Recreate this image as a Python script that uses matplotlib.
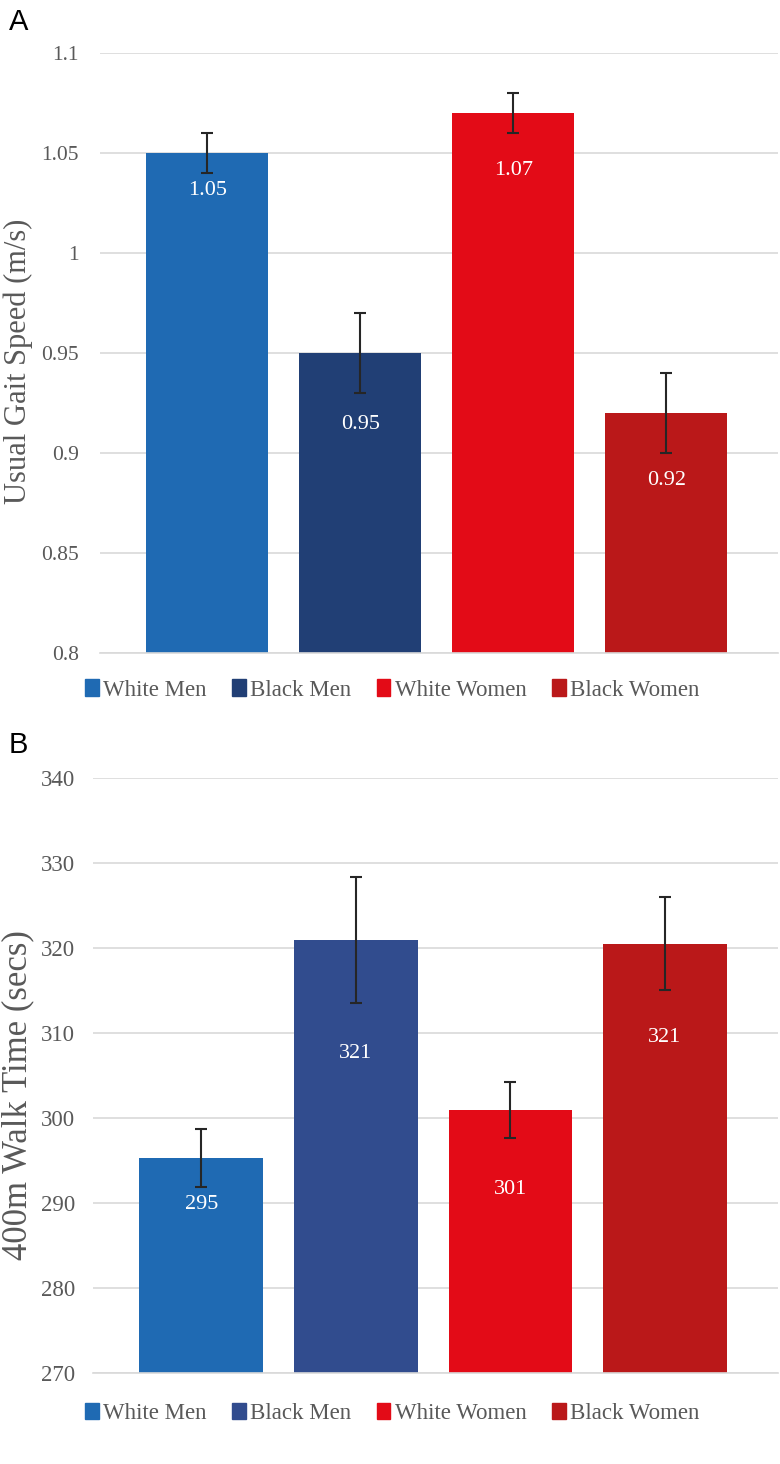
import matplotlib.pyplot as plt
from matplotlib.patches import Patch

# data
groups = ['White Men', 'Black Men', 'White Women', 'Black Women']
gait_speed = [1.05, 0.95, 1.07, 0.92]
gait_err = [0.01, 0.02, 0.01, 0.02]
gait_labels = ['1.05', '0.95', '1.07', '0.92']
walk_time = [295.3, 320.9, 300.9, 320.5]
walk_err = [3.4, 7.4, 3.3, 5.5]
walk_labels = ['295', '321', '301', '321']

colors_a = ['#1f6ab3', '#213f75', '#e30b17', '#ba1819']
colors_b = ['#1f6ab3', '#314c8e', '#e30b17', '#ba1819']

# label drop below error bar bottom (px)
drop_a = [17, 31, 37, 27]
drop_b = [18, 50, 51, 47]

SERIF = ['Liberation Serif', 'DejaVu Serif']
GREY = '#595959'

fig = plt.figure(figsize=(7.8, 14.64), dpi=100)


def panel(rect, vals, errs, labels, cols, drops, ylim, yticks, ylabel, tick_fs, lab_fs, pad):
    ax = fig.add_axes(rect)
    x = range(len(vals))
    ax.bar(x, vals, width=0.8, color=cols, zorder=2)
    ax.errorbar(x, vals, yerr=errs, fmt='none', ecolor='#262626',
                elinewidth=1.5, capsize=4, capthick=1.5, zorder=3)
    for i, (v, e, t) in enumerate(zip(vals, errs, labels)):
        ax.annotate(t, (i, v - e), xytext=(0, -drops[i] * 0.72), textcoords='offset points',
                    ha='center', va='center', color='white', fontsize=16, family=SERIF, zorder=4)
    ax.set_xlim(-0.7, 3.73)
    ax.set_ylim(*ylim)
    ax.set_yticks(yticks)
    ax.set_yticklabels([('%g' % t) for t in yticks], family=SERIF, fontsize=tick_fs, color=GREY)
    ax.set_xticks([])
    ax.tick_params(axis='y', length=0, pad=pad)
    ax.grid(axis='y', color='#d9d9d9', linewidth=1.2, zorder=0)
    for s in ['top', 'right', 'left']:
        ax.spines[s].set_visible(False)
    ax.spines['bottom'].set_color('#d9d9d9')
    ax.spines['bottom'].set_linewidth(1.2)
    ax.set_ylabel(ylabel, family=SERIF, fontsize=lab_fs, color=GREY)
    return ax


ax_a = panel([0.1282, 0.554, 0.8692, 0.4095], gait_speed, gait_err, gait_labels, colors_a, drop_a,
             (0.8, 1.1), [0.8, 0.85, 0.9, 0.95, 1.0, 1.05, 1.1], 'Usual Gait Speed (m/s)', 15.5, 22, 15)
ax_a.yaxis.set_label_coords(-0.099, 0.487)

ax_b = panel([0.1192, 0.0622, 0.878, 0.4064], walk_time, walk_err, walk_labels, colors_b, drop_b,
             (270, 340), [270, 280, 290, 300, 310, 320, 330, 340], '400m Walk Time (secs)', 16.5, 25, 13)
ax_b.yaxis.set_label_coords(-0.085, 0.467)

for cols, y in [(colors_a, 0.5287), (colors_b, 0.0348)]:
    handles = [Patch(color=c) for c in cols]
    leg = fig.legend(handles, groups, loc='center', bbox_to_anchor=(0.503, y), ncol=4,
                     frameon=False, handlelength=0.6, handleheight=0.7, handletextpad=0.2,
                     columnspacing=1.1, prop={'family': SERIF, 'size': 16.5})
    for t in leg.get_texts():
        t.set_color(GREY)

fig.text(0.011, 0.985, 'A', fontsize=21, family='Liberation Sans', va='center')
fig.text(0.011, 0.491, 'B', fontsize=21, family='Liberation Sans', va='center')

plt.savefig('out.png', dpi=100)
